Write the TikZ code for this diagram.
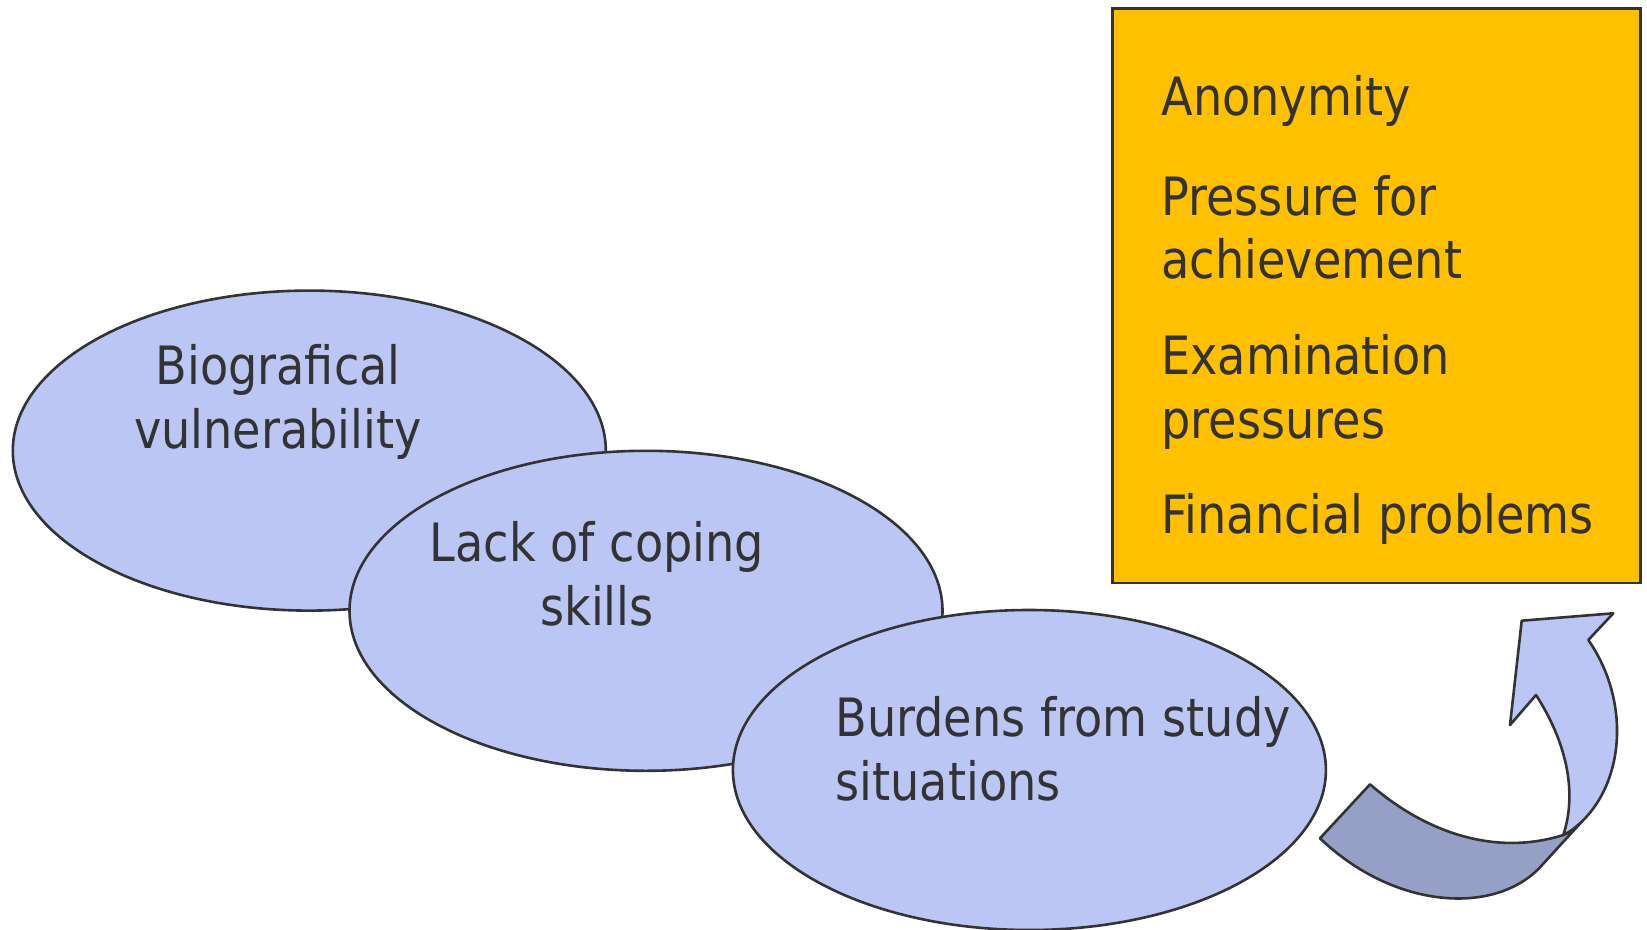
\documentclass[tikz,border=0pt]{standalone}
\usepackage{fontspec}
\setmainfont{DejaVu Sans}[FakeStretch=0.875]
\usepackage{tikz}
\usetikzlibrary{calc,shapes,positioning}
\definecolor{ovalblue}{HTML}{BBC6F4}
\definecolor{backblue}{HTML}{96A0C6}
\definecolor{boxgold}{HTML}{FFC000}
\definecolor{inkgray}{HTML}{333333}

\begin{document}
\begin{tikzpicture}[x=0.5pt,y=-0.5pt]
          \tikzstyle{cnode} = [draw=inkgray, line width=1.3pt, fill=ovalblue, ellipse, inner sep=0pt, outer sep=0pt, minimum width=296.5pt, minimum height=160pt]
          \tikzstyle{tnode} = [text=inkgray, inner sep=0pt, font=\fontsize{26.4}{32}\selectfont]
          \tikzstyle{bnode} = [draw=inkgray, line width=1.3pt, fill=boxgold, rectangle, inner sep=0pt, minimum width=264.2pt, minimum height=287.3pt]
          \tikzstyle{ribbon} = [draw=inkgray, line width=1.3pt, line join=round]
          \useasboundingbox (0,0) rectangle (1647,930);

          \node[cnode] (bio) at (309.3, 450.6) {};
          \node[cnode] (cope) at (646, 610.8) {};
          \node[cnode] (study) at (1029.4, 770) {};
          \node[bnode] (load) at (1376.5, 295.7) {};

          % base of a two-line node sits on its last line
          \node[tnode, align=center, anchor=base] (biot) at (278, 448) {Biografical\\vulnerability};
          \node[tnode, align=center, anchor=base] (copet) at (597, 625) {Lack of coping\\skills};
          \node[tnode, align=left, anchor=base west] (studyt) at (835, 800) {Burdens from study\\situations};

          \node[tnode, anchor=base west] (anon) at (1161, 116) {Anonymity};
          \node[tnode, align=left, anchor=base west] (press) at (1161, 279) {Pressure for\\achievement};
          \node[tnode, align=left, anchor=base west] (exam) at (1161, 438) {Examination\\pressures};
          \node[tnode, anchor=base west] (money) at (1161, 533) {Financial problems};

          % curled arrow: back face, then front face with the head
          \draw[ribbon, fill=backblue] (1320, 838.3) -- (1370, 784.3)
            .. controls (1420, 828) and (1490, 858) .. (1563.3, 835)
            .. controls (1570, 832) and (1576, 827) .. (1581.7, 821.7)
            -- (1540, 867.3)
            .. controls (1495, 915) and (1395, 910) .. (1320, 838.3) -- cycle;
          \draw[ribbon, fill=ovalblue] (1563.3, 835)
            .. controls (1570, 832) and (1576, 827) .. (1581.7, 821.7)
            .. controls (1625, 780) and (1630, 700) .. (1588.3, 640)
            -- (1613.3, 613.3) -- (1521.7, 620.7) -- (1510, 725) -- (1536, 695)
            .. controls (1565, 740) and (1578, 790) .. (1563.3, 835) -- cycle;
        \end{tikzpicture}
\end{document}
